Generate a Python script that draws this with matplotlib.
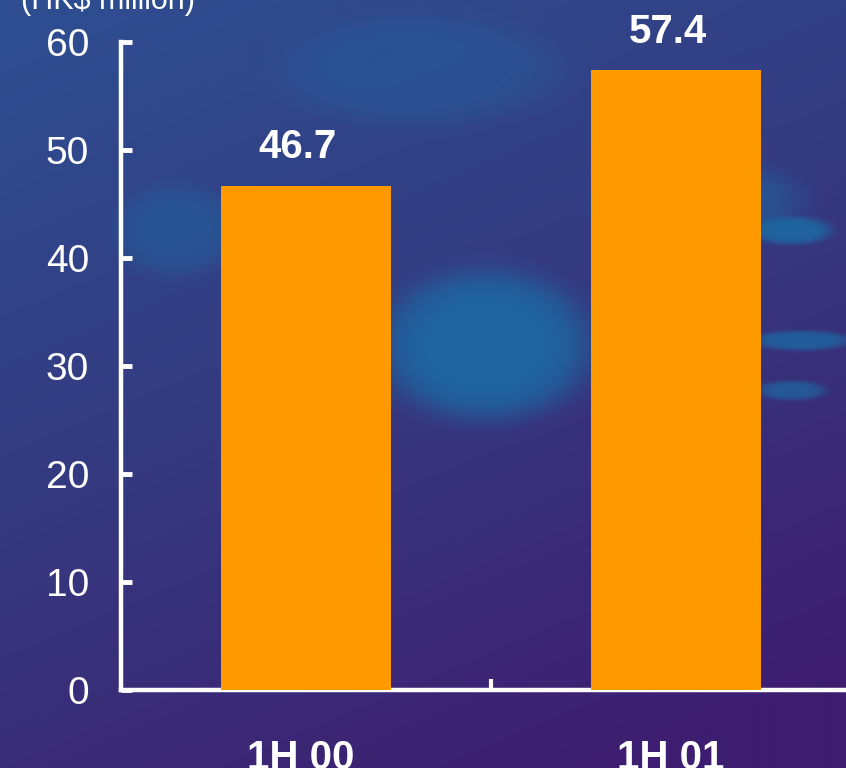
# -*- coding:utf-8 -*-
import numpy as np
import matplotlib
matplotlib.use('Agg')
import matplotlib.pyplot as plt

# data
categories = ['1H 00', '1H 01']
values = [46.7, 57.4]
yticks = [0, 10, 20, 30, 40, 50, 60]
unit_label = '(HK$ million)'

barColor = '#FF9900'
textColor = 'white'

plt.rcParams['font.family'] = ['Liberation Sans', 'DejaVu Sans']

W, H = 846, 768
fig = plt.figure(figsize=(W / 100., H / 100.), dpi=100)

# background: blue-to-purple wash with a few lighter patches
bg = fig.add_axes([0, 0, 1, 1])
yy, xx = np.mgrid[0:H, 0:W]
u = xx / float(W)
v = yy / float(H)
top = np.array([0x2e, 0x4f, 0x92]) / 255.
mid = np.array([0x35, 0x3a, 0x80]) / 255.
low = np.array([0x3e, 0x1e, 0x70]) / 255.
t = np.clip(v * 0.75 + u * 0.35, 0, 1)[..., None]
img = np.where(t < 0.5, top + (mid - top) * (t / 0.5), mid + (low - mid) * ((t - 0.5) / 0.5))
light = np.array([0x1d, 0x68, 0xa2]) / 255.
patches = [(485, 345, 105, 75, 0.95), (700, 200, 100, 40, 0.55), (175, 230, 60, 45, 0.45),
           (420, 70, 140, 55, 0.35), (790, 230, 40, 14, 0.9), (800, 340, 50, 10, 0.8),
           (790, 390, 35, 10, 0.7)]
for cx, cy, rx, ry, a in patches:
    g = np.exp(-(((xx - cx) / rx) ** 2 + ((yy - cy) / ry) ** 2) ** 3) * a
    img = img + (light - img) * g[..., None]
bg.imshow(np.clip(img, 0, 1), aspect='auto', extent=[0, 1, 0, 1], origin='upper')
bg.set_axis_off()

# chart axes: x range extends a bit past the right edge like the original
left = 121. / W
bottom = (H - 690.) / H
width = 740. / W
height = (690. - 42.) / H
ax = fig.add_axes([left, bottom, width, height])
ax.patch.set_alpha(0)

ind = np.arange(len(values))
rects = ax.bar(ind, values, 0.46, color=barColor, zorder=3)

for rect, val in zip(rects, values):
    ax.annotate('%.1f' % val, (rect.get_x() + rect.get_width() / 2., rect.get_height()),
                xytext=(-6, 14), textcoords='offset points', ha='center', va='bottom',
                color=textColor, fontsize=29, fontweight='bold')

ax.set_xlim(-0.5, len(values) - 0.5)
ax.set_ylim(0, 60)
ax.set_yticks(yticks)
ax.set_yticklabels([str(y) for y in yticks], fontsize=28, color=textColor)

ax.set_xticks([0.5])
ax.set_xticklabels([''])
ax.tick_params(axis='x', direction='in', length=8, width=3, colors=textColor)
ax.tick_params(axis='y', direction='in', length=8, width=3.5, colors=textColor, pad=23)

for name in ['top', 'right']:
    ax.spines[name].set_visible(False)
for name in ['left', 'bottom']:
    ax.spines[name].set_color(textColor)
    ax.spines[name].set_linewidth(3.2)

for i, cat in enumerate(categories):
    ax.annotate(cat, (i, 0), xytext=(-4, -35), textcoords='offset points',
                ha='center', va='top', color=textColor, fontsize=29, fontweight='bold',
                annotation_clip=False)

fig.text(108. / W, 1.0 - 1. / H, unit_label, ha='center', va='center', color=textColor, fontsize=22)

fig.savefig('out.png', dpi=100)
